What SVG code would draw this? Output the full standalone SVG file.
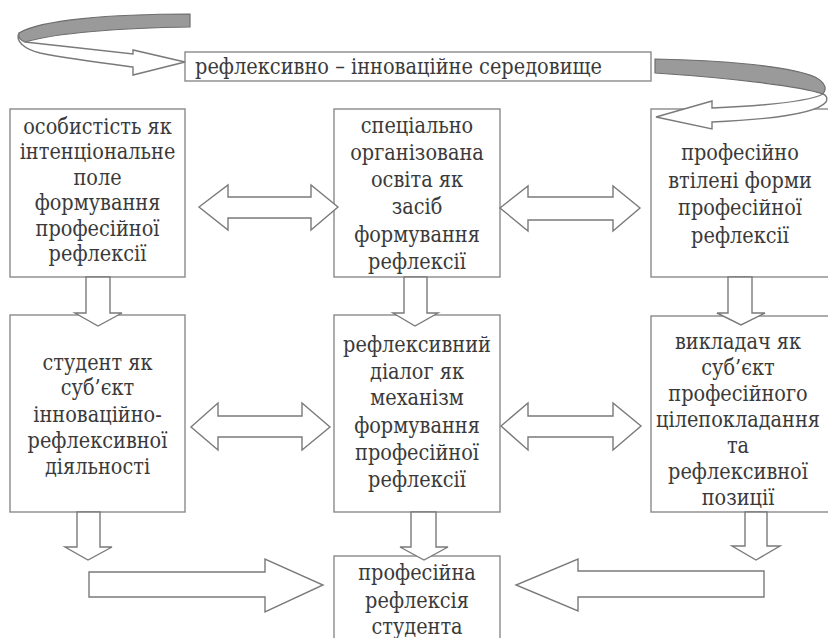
<svg xmlns="http://www.w3.org/2000/svg" width="828" height="638" viewBox="0 0 828 638">
<style>
.box{fill:#fff;stroke:#8a8a8a;stroke-width:1.4}
.arr{fill:#fff;stroke:#7a7a7a;stroke-width:1.4;stroke-linejoin:miter}
.gray{fill:#9a9a9a;stroke:#6e6e6e;stroke-width:1.2}
.t{font-family:'DejaVu Serif',serif;font-size:23px;fill:#3a3a3a;text-anchor:middle}
</style>
<rect width="828" height="638" fill="#fff"/>
<g id="env">
<rect class="box" x="185" y="52" width="466" height="29"/>
<text class="t" x="195" y="74" style="text-anchor:start" textLength="407" lengthAdjust="spacingAndGlyphs">рефлексивно – інноваційне середовище</text>
</g>
<g id="nA">
<rect class="box" x="10" y="109" width="175" height="168"/>
<text class="t" transform="translate(97.5 0) scale(0.84 1)"><tspan x="0" y="134">особистість як</tspan><tspan x="0" y="159.5">інтенціональне</tspan><tspan x="0" y="185">поле</tspan><tspan x="0" y="210.5">формування</tspan><tspan x="0" y="236">професійної</tspan><tspan x="0" y="261">рефлексії</tspan></text>
</g>
<g id="nB">
<rect class="box" x="334" y="109" width="166" height="168"/>
<text class="t" transform="translate(417 0) scale(0.84 1)"><tspan x="0" y="133">спеціально</tspan><tspan x="0" y="160">організована</tspan><tspan x="0" y="187.5">освіта як</tspan><tspan x="0" y="214.5">засіб</tspan><tspan x="0" y="242">формування</tspan><tspan x="0" y="269">рефлексії</tspan></text>
</g>
<g id="nC">
<rect class="box" x="651" y="109" width="190" height="168"/>
<text class="t" transform="translate(740 0) scale(0.84 1)"><tspan x="0" y="160">професійно</tspan><tspan x="0" y="188">втілені форми</tspan><tspan x="0" y="215.5">професійної</tspan><tspan x="0" y="243.5">рефлексії</tspan></text>
</g>
<g id="nD">
<rect class="box" x="10" y="315" width="175" height="197"/>
<text class="t" transform="translate(97.5 0) scale(0.84 1)"><tspan x="0" y="370">студент як</tspan><tspan x="0" y="395.5">суб’єкт</tspan><tspan x="0" y="422">інноваційно-</tspan><tspan x="0" y="448.5">рефлексивної</tspan><tspan x="0" y="474">діяльності</tspan></text>
</g>
<g id="nE">
<rect class="box" x="334" y="315" width="166" height="197"/>
<text class="t" transform="translate(417 0) scale(0.84 1)"><tspan x="0" y="352">рефлексивний</tspan><tspan x="0" y="379">діалог як</tspan><tspan x="0" y="405.5">механізм</tspan><tspan x="0" y="433">формування</tspan><tspan x="0" y="460">професійної</tspan><tspan x="0" y="487">рефлексії</tspan></text>
</g>
<g id="nF">
<rect class="box" x="651" y="316" width="190" height="196"/>
<text class="t" transform="translate(738 0) scale(0.84 1)"><tspan x="0" y="349">викладач як</tspan><tspan x="0" y="375">суб’єкт</tspan><tspan x="0" y="401">професійного</tspan><tspan x="0" y="427">цілепокладання</tspan><tspan x="0" y="453">та</tspan><tspan x="0" y="479">рефлексивної</tspan><tspan x="0" y="505">позиції</tspan></text>
</g>
<g id="nG">
<rect class="box" x="334" y="556" width="166" height="95"/>
<text class="t" transform="translate(417 0) scale(0.84 1)"><tspan x="0" y="580">професійна</tspan><tspan x="0" y="608">рефлексія</tspan><tspan x="0" y="634">студента</tspan></text>
</g>
<g id="connectors">
<path class="gray" d="M190,14 L190,27 C120,28 55,33 25,42 C19,40 17,36 19,33 C40,20 110,14 190,14 Z"/>
<path class="arr" d="M19,33 C15,41 24,49 40,53 C70,59 110,64 133,67 L133,75 L185,62 L133,50 L133,54 C100,50 60,46 25,42 C20,40 18,37 19,33 Z"/>
<path class="gray" d="M655,59 C720,60 790,66 815,77 C826,83 827,89 823,94 C800,86 730,78 655,73 Z"/>
<path class="arr" d="M823,94 C812,100 780,105 712,108 L712,101 L656,117 L712,129 L712,122 C780,119 818,112 826,102 C828,98 826,95 823,94 Z"/>
<polygon class="arr" points="199,207 228,185 228,197 311,197 311,185 338,207 311,230 311,218 228,218 228,230"/>
<polygon class="arr" points="500,208 528,186 528,197 613,197 613,186 640,208 613,231 613,220 528,220 528,231"/>
<polygon class="arr" points="191,427 218,403 218,416 302,416 302,403 330,427 302,450 302,437 218,437 218,450"/>
<polygon class="arr" points="501,426 528,403 528,416 613,416 613,403 641,426 613,450 613,437 528,437 528,450"/>
<polygon class="arr" points="86,277 110,277 110,313 122,313 98,326 75,313 86,313"/>
<polygon class="arr" points="404,277 427,277 427,313 438,313 415,326 393,313 404,313"/>
<polygon class="arr" points="728,277 752,277 752,313 765,313 741,325 717,313 728,313"/>
<polygon class="arr" points="77,512 100,512 100,547 112,547 88,560 65,547 77,547"/>
<polygon class="arr" points="411,512 436,512 436,547 448,547 424,560 400,547 411,547"/>
<polygon class="arr" points="745,512 767,512 767,546 780,546 756,560 732,546 745,546"/>
<polygon class="arr" points="89,572 265,572 265,559 323,585 265,612 265,597 89,597"/>
<polygon class="arr" points="764,571 578,571 578,559 516,585 578,611 578,597 764,597"/>
</g>
</svg>
